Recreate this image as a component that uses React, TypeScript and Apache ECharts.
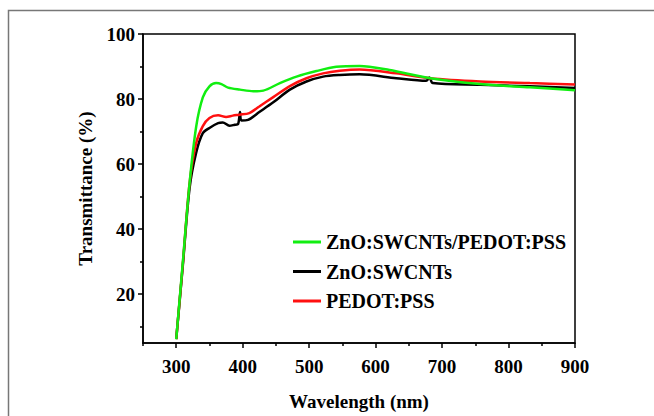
import React, { useEffect, useRef } from "react";
import * as echarts from "echarts";

const seriesNames = ["ZnO:SWCNTs/PEDOT:PSS", "ZnO:SWCNTs", "PEDOT:PSS"];
const seriesColors = ["#11ee11", "#000000", "#ff1010"];

const greenWl = [300, 310, 320, 330, 340, 350, 360, 368, 378, 396, 416, 431, 456, 481, 511, 541, 576, 621, 682, 757, 832, 900];
const greenT = [6.2, 30, 54, 71.5, 80.5, 83.9, 84.9, 84.6, 83.5, 82.9, 82.4, 82.6, 84.9, 86.9, 88.6, 89.9, 90.2, 88.9, 86.4, 84.6, 83.6, 82.7];

const blackWl = [300, 310, 320, 330, 340, 350, 363, 370, 380, 388, 393, 396, 398, 408, 425, 446, 471, 496, 521, 546, 576, 631, 676, 681, 686, 757, 832, 900];
const blackT = [6.2, 29, 52.5, 63.5, 69.5, 71.1, 72.6, 72.8, 71.8, 72.1, 72.3, 76, 73.4, 73.6, 76, 79, 82.9, 85.4, 86.9, 87.4, 87.6, 86.4, 85.6, 86.6, 84.9, 84.4, 83.9, 83.4];

const redWl = [300, 310, 320, 330, 340, 350, 363, 375, 385, 395, 410, 425, 446, 471, 496, 521, 546, 576, 631, 682, 757, 832, 900];
const redT = [6.2, 29.5, 54, 66.5, 71.7, 74.2, 75, 74.5, 74.9, 75.2, 75.7, 77.7, 80.6, 84, 86.4, 87.9, 88.7, 89.1, 87.9, 86.4, 85.4, 84.9, 84.5];

const xMajor = [300, 400, 500, 600, 700, 800, 900];
const xMinor = [250, 350, 450, 550, 650, 750, 850];
const yMajor = [20, 40, 60, 80, 100];
const yMinor = [10, 30, 50, 70, 90];

const FONT = "'Liberation Serif', 'Times New Roman', serif";

export default function App() {
  const ref = useRef<HTMLDivElement>(null);
  useEffect(() => {
    document.body.style.margin = "0";
    const chart = echarts.init(ref.current!, null, { renderer: "svg" });
    const pairs = (xs: number[], ys: number[]) => xs.map((x, i) => [x, ys[i]]);
    const datasets = [pairs(greenWl, greenT), pairs(blackWl, blackT), pairs(redWl, redT)];
    const labelStyle = { color: "#000", fontFamily: FONT, fontWeight: "bold" as const, fontSize: 19 };
    chart.setOption({
      animation: false,
      backgroundColor: "#fff",
      graphic: [
        {
          type: "rect",
          shape: { x: 8.5, y: 10.5, width: 700, height: 500 },
          style: { fill: "none", stroke: "#777", lineWidth: 1.5 },
          silent: true,
        },
      ],
      grid: { left: 143, right: 79, top: 34, bottom: 61, show: true, borderColor: "#000", borderWidth: 1.5 },
      legend: {
        orient: "vertical",
        left: 288,
        top: 227,
        icon: "rect",
        itemWidth: 28,
        itemHeight: 3,
        itemGap: 9.5,
        data: seriesNames,
        textStyle: { ...labelStyle, fontSize: 20, lineHeight: 20 },
      },
      xAxis: [
        {
          type: "value",
          min: 250,
          max: 900,
          name: "Wavelength (nm)",
          nameLocation: "middle",
          nameGap: 49,
          nameTextStyle: labelStyle,
          axisLine: { show: true, lineStyle: { color: "#000", width: 1.5 } },
          axisTick: { show: true, customValues: xMajor, length: 5, lineStyle: { color: "#000", width: 1.5 } },
          axisLabel: { customValues: xMajor, margin: 14, ...labelStyle },
          splitLine: { show: false },
        },
        {
          type: "value",
          min: 250,
          max: 900,
          position: "bottom",
          axisLine: { show: false },
          axisTick: { show: true, customValues: xMinor, length: 3, lineStyle: { color: "#000", width: 1.5 } },
          axisLabel: { show: false },
          splitLine: { show: false },
        },
      ],
      yAxis: [
        {
          type: "value",
          min: 5,
          max: 100,
          name: "Transmittance (%)",
          nameLocation: "middle",
          nameGap: 48,
          nameTextStyle: labelStyle,
          axisLine: { show: true, lineStyle: { color: "#000", width: 1.5 } },
          axisTick: { show: true, customValues: yMajor, length: 5, lineStyle: { color: "#000", width: 1.5 } },
          axisLabel: { customValues: yMajor, margin: 8, ...labelStyle },
          splitLine: { show: false },
        },
        {
          type: "value",
          min: 5,
          max: 100,
          position: "left",
          axisLine: { show: false },
          axisTick: { show: true, customValues: yMinor, length: 3, lineStyle: { color: "#000", width: 1.5 } },
          axisLabel: { show: false },
          splitLine: { show: false },
        },
      ],
      series: seriesNames.map((name, i) => ({
        name,
        type: "line",
        data: datasets[i],
        smooth: 0.3,
        symbol: "none",
        color: seriesColors[i],
        lineStyle: { color: seriesColors[i], width: 2.5 },
        z: i === 0 ? 3 : i === 2 ? 2 : 1,
      })),
    });
    return () => chart.dispose();
  }, []);
  return <div ref={ref} style={{ width: 654, height: 416 }} />;
}
